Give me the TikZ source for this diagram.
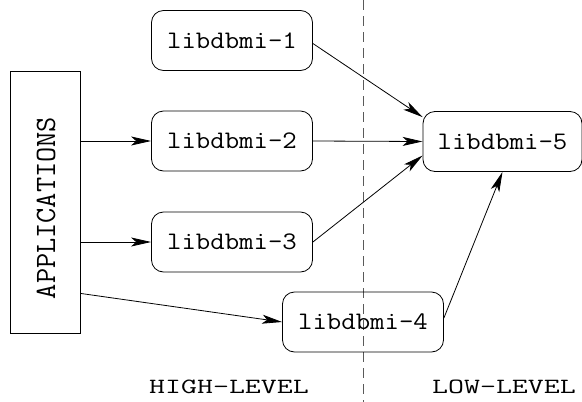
\documentclass[tikz,border=0pt]{standalone}
\usepackage{fontspec}
\usetikzlibrary{arrows.meta}
\begin{document}
\begin{tikzpicture}[x=1pt,y=-1pt,
  lib/.style={draw,line width=0.8pt,rounded corners=12pt,minimum width=161pt,minimum height=60pt,inner sep=0pt,font=\ttfamily\fontsize{28}{30}\selectfont},
  app/.style={draw,line width=0.8pt,minimum width=70pt,minimum height=262pt,inner sep=0pt},
  conn/.style={line width=0.8pt,-{Stealth[length=20pt,width=9pt,inset=5pt]}},
  lbl/.style={font=\ttfamily\fontsize{31}{33}\selectfont}]
\useasboundingbox (0,0) rectangle (582,402);
\draw[line width=0.8pt,black!65,dash pattern=on 10pt off 6pt] (363,0) -- (363,402);
\node[app] (app) at (45,202) {};
\node[rotate=90,font=\ttfamily\fontsize{29.5}{31}\selectfont] (apptext) at (46,208) {APPLICATIONS};
\node[lib] (l1) at (232,40.5) {\raisebox{-2pt}{\scalebox{1}[0.9]{libdbmi-1}}};
\node[lib] (l2) at (232,141) {\raisebox{-2pt}{\scalebox{1}[0.9]{libdbmi-2}}};
\node[lib] (l3) at (232,242) {\raisebox{-2pt}{\scalebox{1}[0.9]{libdbmi-3}}};
\node[lib] (l4) at (363,322) {\raisebox{-2pt}{\scalebox{1}[0.9]{libdbmi-4}}};
\node[lib,minimum width=159pt] (l5) at (502.5,141.5) {\raisebox{-2pt}{\scalebox{1}[0.9]{libdbmi-5}}};
\node[lbl] (hl) at (229,387) {\scalebox{1}[0.7]{HIGH-LEVEL}};
\node[lbl] (ll) at (504,387) {\scalebox{1}[0.7]{LOW-LEVEL}};
\draw[conn] ([yshift=-3pt]l1.east) -- ([yshift=-6pt]l5.north west);
\draw[conn] (l2.west -| app.east) -- (l2.west);
\draw[conn] (l3.west -| app.east) -- (l3.west);
\draw[conn] ([yshift=40pt]app.south east) -- (l4.west);
\draw[conn] (l2.east) -- (l5.west);
\draw[conn] (l3.east) -- ([yshift=-14pt]l5.west);
\draw[conn] ([yshift=4pt]l4.east) -- (l5.south);
\end{tikzpicture}
\end{document}
